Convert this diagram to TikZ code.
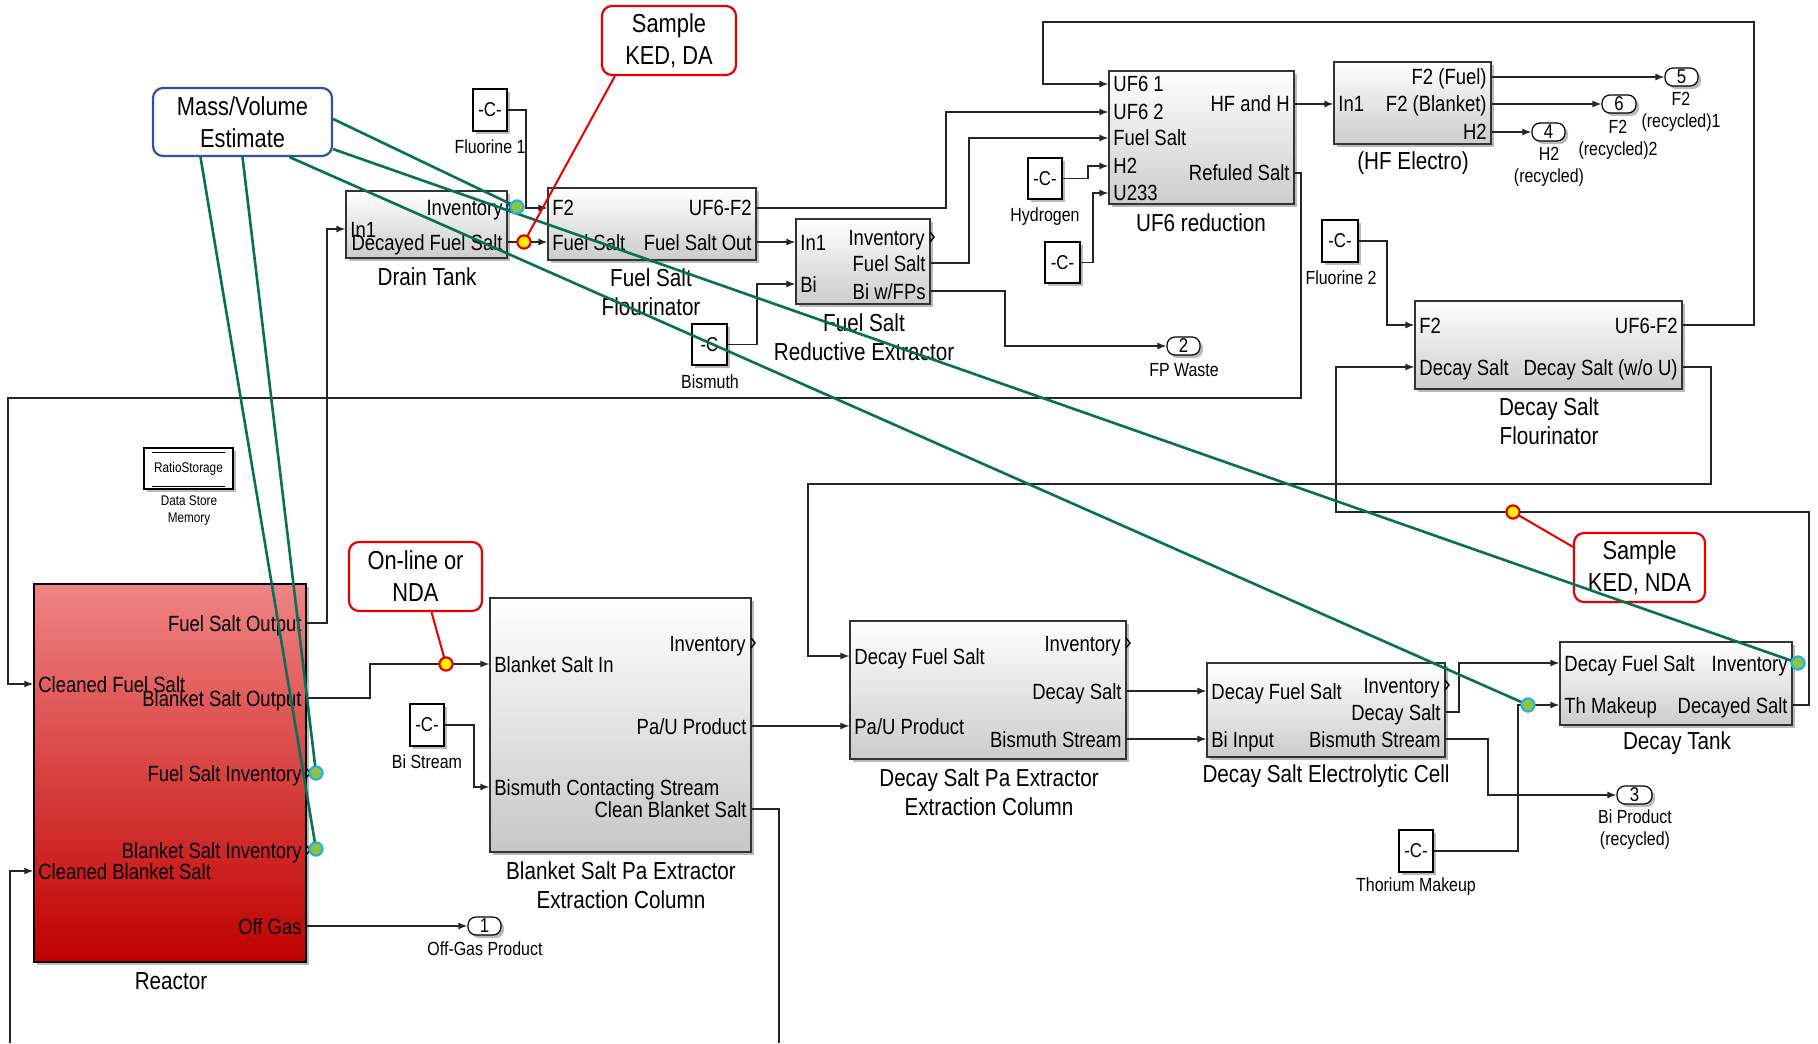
\documentclass[tikz,border=0pt]{standalone}
\usepackage{fontspec}
\setmainfont{Liberation Sans}[FakeStretch=0.84]
\usetikzlibrary{shadows,arrows.meta,fit,calc}
\definecolor{gln}{RGB}{8,112,84}
\definecolor{rln}{RGB}{230,0,0}
\definecolor{bln}{RGB}{47,85,151}
\definecolor{dotb}{RGB}{40,175,230}
\definecolor{dotg}{RGB}{140,198,63}
\definecolor{rtop}{RGB}{240,132,132}
\definecolor{rbot}{RGB}{192,0,0}
\newcommand{\lp}[3]{\node[plab,anchor=west] (#1) at (#2) {#3};}
\newcommand{\rp}[3]{\node[plab,anchor=east] (#1) at (#2) {#3};}
\begin{document}
\begin{tikzpicture}[x=0.5pt,y=-0.5pt,
 shd/.style={drop shadow={shadow xshift=1.5pt,shadow yshift=-1.5pt,fill=black!60,opacity=0.45}},
 blk/.style={shd,draw=black!80,line width=0.6pt,top color=white,bottom color=black!20,inner sep=0pt},
 cst/.style={shd,draw=black,line width=0.6pt,fill=white,inner sep=0pt},
 ctxt/.style={font=\fontsize{10}{12}\selectfont,inner sep=0pt},
 outp/.style={shd,draw=black,line width=0.6pt,fill=white,rounded corners=4pt,inner sep=0pt},
 plab/.style={font=\fontsize{11}{13}\selectfont,inner sep=0pt,text height=8pt,text depth=0pt},
 ttl/.style={align=center,font=\fontsize{12.3}{14.5}\selectfont,inner sep=0pt},
 sml/.style={align=center,font=\fontsize{9.5}{11}\selectfont,inner sep=0pt},
 tiny/.style={align=center,font=\fontsize{7}{8.5}\selectfont,inner sep=0pt},
 ann/.style={rounded corners=5pt,line width=1.1pt,fill=white,inner sep=0pt},
 atxt/.style={align=center,inner sep=0pt,font=\fontsize{13}{16}\selectfont},
 conn/.style={draw=black!85,line width=0.7pt,-{Latex[length=4.5pt,width=3.5pt]}},
 wire/.style={draw=black!85,line width=0.7pt},
 chev/.style={draw=black,line width=0.7pt},
 gline/.style={draw=gln,line width=1.3pt},
 rline/.style={draw=rln,line width=1pt},
 bdot/.style={circle,draw=dotb,fill=dotg,line width=1pt,minimum size=6.5pt,inner sep=0pt},
 ydot/.style={circle,draw=rln,fill=yellow,line width=1pt,minimum size=6.5pt,inner sep=0pt}
]
\fill[white] (0,0) rectangle (1818,1043);
\useasboundingbox (0,0) rectangle (1818,1043);

% ---------- main blocks ----------
\node[blk,fit={(346,191)(507,258)}] (dt) {};
\node[blk,fit={(548,188)(756,260)}] (fsf) {};
\node[blk,fit={(796,219)(930,304)}] (fsre) {};
\node[blk,fit={(1109,71)(1294,204)}] (uf6) {};
\node[blk,fit={(1334,62)(1491,144)}] (hfe) {};
\node[blk,fit={(1415,301)(1682,389)}] (dsf) {};
\node[shd,draw=black,line width=0.7pt,top color=rtop,bottom color=rbot,inner sep=0pt,fit={(34,584)(306,962)}] (reactor) {};
\node[blk,top color=white,bottom color=black!22,fit={(490,598)(751,852)}] (bspa) {};
\node[blk,fit={(850,621)(1126,759)}] (dspa) {};
\node[blk,fit={(1207,663)(1445,757)}] (dsec) {};
\node[blk,fit={(1560,642)(1792,725)}] (dtk) {};

% data store memory
\node[cst,fit={(144,448)(233,489)}] (dsm) {};
\draw[line width=0.7pt] ($(dsm.north west)+(9,5)$) -- ($(dsm.north east)+(-9,5)$);
\draw[line width=0.7pt] ($(dsm.south west)+(9,-3)$) -- ($(dsm.south east)+(-9,-3)$);
\node[tiny] (dsmt) at (dsm.center) {RatioStorage};
\node[tiny] (dsml) at (189,511) {Data Store\\Memory};

% ---------- constants ----------
\node[cst,fit={(473,89)(507,131)}] (c1) {};
\node[cst,fit={(692,324)(727,365)}] (cBi) {};
\node[cst,fit={(1028,158)(1062,199)}] (cH) {};
\node[cst,fit={(1045,242)(1080,283)}] (cU) {};
\node[cst,fit={(1322,220)(1358,262)}] (cF2) {};
\node[cst,fit={(410,704)(444,746)}] (cBiS) {};
\node[cst,fit={(1399,830)(1433,872)}] (cTh) {};
\node[ctxt] (c1t) at (c1.center) {-C-};
\node[ctxt] (cBit) at (cBi.center) {-C};
\node[ctxt] (cHt) at (cH.center) {-C-};
\node[ctxt] (cUt) at (cU.center) {-C-};
\node[ctxt] (cF2t) at (cF2.center) {-C-};
\node[ctxt] (cBiSt) at (cBiS.center) {-C-};
\node[ctxt] (cTht) at (cTh.center) {-C-};
\node[sml] (lF1) at (490,147) {Fluorine 1};
\node[sml] (lBi) at (710,382) {Bismuth};
\node[sml] (lH) at (1045,217) {Hydrogen};
\node[sml] (lF2) at (1341,278) {Fluorine 2};
\node[sml] (lBiS) at (427,762) {Bi Stream};
\node[sml] (lTh) at (1416,887) {Thorium Makeup};

% ---------- outports ----------
\node[outp,fit={(468,917)(501,935)}] (o1) {};
\node[outp,fit={(1167,337)(1200,355)}] (o2) {};
\node[outp,fit={(1617,786)(1652,804)}] (o3) {};
\node[outp,fit={(1532,123)(1565,141)}] (o4) {};
\node[outp,fit={(1665,68)(1698,86)}] (o5) {};
\node[outp,fit={(1602,95)(1636,113)}] (o6) {};
\node[ctxt] (o1t) at (o1.center) {1};
\node[ctxt] (o2t) at (o2.center) {2};
\node[ctxt] (o3t) at (o3.center) {3};
\node[ctxt] (o4t) at (o4.center) {4};
\node[ctxt] (o5t) at (o5.center) {5};
\node[ctxt] (o6t) at (o6.center) {6};
\node[sml] (lo1) at (485,949) {Off-Gas Product};
\node[sml] (lo2) at (1184,370) {FP Waste};
\node[sml] (lo3) at (1635,830) {Bi Product\\(recycled)};
\node[sml] (lo4) at (1549,167) {H2\\(recycled)};
\node[sml] (lo5) at (1681,112) {F2\\(recycled)1};
\node[sml] (lo6) at (1618,140) {F2\\(recycled)2};

% ---------- port labels ----------
\lp{dtIn}{350,229}{In1}
\rp{dtInv}{503,207}{Inventory}
\rp{dtDFS}{503,242}{Decayed Fuel Salt}
\lp{fsfF2}{552,208}{F2}
\lp{fsfFS}{552,242}{Fuel Salt}
\rp{fsfUF}{752,208}{UF6-F2}
\rp{fsfFSO}{752,242}{Fuel Salt Out}
\lp{reIn}{800,242}{In1}
\lp{reBi}{800,284}{Bi}
\rp{reInv}{925,237}{Inventory}
\rp{reFS}{926,263}{Fuel Salt}
\rp{reBW}{926,291}{Bi w/FPs}
\lp{uU1}{1113,84}{UF6 1}
\lp{uU2}{1113,112}{UF6 2}
\lp{uFS}{1113,138}{Fuel Salt}
\lp{uH2}{1113,166}{H2}
\lp{uU233}{1113,193}{U233}
\rp{uHF}{1290,104}{HF and H}
\rp{uRS}{1290,173}{Refuled Salt}
\lp{hIn}{1338,104}{In1}
\rp{hF}{1487,77}{F2 (Fuel)}
\rp{hB}{1487,104}{F2 (Blanket)}
\rp{hH}{1487,132}{H2}
\lp{sF2}{1419,325}{F2}
\lp{sDS}{1419,367}{Decay Salt}
\rp{sUF}{1678,325}{UF6-F2}
\rp{sDSU}{1678,367}{Decay Salt (w/o U)}
\lp{rCFS}{38,684}{Cleaned Fuel Salt}
\lp{rCBS}{38,871}{Cleaned Blanket Salt}
\rp{rFSO}{302,623}{Fuel Salt Output}
\rp{rBSO}{302,698}{Blanket Salt Output}
\rp{rFSI}{302,773}{Fuel Salt Inventory}
\rp{rBSI}{302,850}{Blanket Salt Inventory}
\rp{rOG}{302,926}{Off Gas}
\lp{bBSI}{494,664}{Blanket Salt In}
\lp{bBCS}{494,787}{Bismuth Contacting Stream}
\rp{bInv}{746,643}{Inventory}
\rp{bPU}{747,726}{Pa/U Product}
\rp{bCBS}{747,809}{Clean Blanket Salt}
\lp{pDFS}{854,656}{Decay Fuel Salt}
\lp{pPU}{854,726}{Pa/U Product}
\rp{pInv}{1121,643}{Inventory}
\rp{pDS}{1122,691}{Decay Salt}
\rp{pBS}{1122,739}{Bismuth Stream}
\lp{eDFS}{1211,691}{Decay Fuel Salt}
\lp{eBI}{1211,739}{Bi Input}
\rp{eInv}{1440,685}{Inventory}
\rp{eDS}{1441,712}{Decay Salt}
\rp{eBS}{1441,739}{Bismuth Stream}
\lp{tDFS}{1564,663}{Decay Fuel Salt}
\lp{tTh}{1564,705}{Th Makeup}
\rp{tInv}{1788,663}{Inventory}
\rp{tDS}{1788,705}{Decayed Salt}

% inventory chevrons
\foreach \cx/\cy in {507/207,930/237,751/643,1126/643,1445/685,306/773,306/850,1792/663}
  \draw[chev] (\cx,\cy-5) -- (\cx+4,\cy) -- (\cx,\cy+5);

% ---------- titles ----------
\node[ttl] (tdt) at (427,277) {Drain Tank};
\node[ttl] (tfsf) at (651,292) {Fuel Salt\\Flourinator};
\node[ttl] (tfsre) at (864,337) {Fuel Salt\\Reductive Extractor};
\node[ttl] (tuf6) at (1201,223) {UF6 reduction};
\node[ttl] (thfe) at (1413,163) {(HF Electro)};
\node[ttl] (tdsf) at (1549,421) {Decay Salt\\Flourinator};
\node[ttl] (trea) at (171,981) {Reactor};
\node[ttl] (tbspa) at (621,885) {Blanket Salt Pa Extractor\\Extraction Column};
\node[ttl] (tdspa) at (989,792) {Decay Salt Pa Extractor\\Extraction Column};
\node[ttl] (tdsec) at (1326,776) {Decay Salt Electrolytic Cell};
\node[ttl] (tdtk) at (1677,743) {Decay Tank};

% ---------- connectors ----------
\coordinate (botL) at (10,1043);
\coordinate (botR) at (779,1043);
\draw[conn] (c1.east) -| (526,208) -- (fsf.west|-fsfF2);
\draw[conn] (dt.east|-dtDFS) -- (fsf.west|-fsfFS);
\draw[conn] (fsf.east|-fsfUF) -| (946,112) -- (uf6.west|-uU2);
\draw[conn] (fsf.east|-fsfFSO) -- (fsre.west|-reIn);
\draw[conn] (cBi.east) -| (757,284) -- (fsre.west|-reBi);
\draw[conn] (fsre.east|-reFS) -| (969,138) -- (uf6.west|-uFS);
\draw[conn] (fsre.east|-reBW) -| (1005,346) -- (o2.west);
\draw[conn] (cH.east) -| (1088,166) -- (uf6.west|-uH2);
\draw[conn] (cU.east) -| (1093,193) -- (uf6.west|-uU233);
\draw[conn] (uf6.east|-uHF) -- (hfe.west|-hIn);
\draw[conn] (hfe.east|-hF) -- (o5.west);
\draw[conn] (hfe.east|-hB) -- (o6.west);
\draw[conn] (hfe.east|-hH) -- (o4.west);
\draw[conn] (uf6.east|-uRS) -| (1301,398) -| (8,684) -- (reactor.west|-rCFS);
\draw[conn] (dsf.east|-sUF) -| (1754,22) -| (1043,84) -- (uf6.west|-uU1);
\draw[conn] (cF2.east) -| (1387,325) -- (dsf.west|-sF2);
\draw[conn] (dsf.east|-sDSU) -| (1711,484) -| (808,656) -- (dspa.west|-pDFS);
\draw[conn] (dtk.east|-tDS) -| (1809,512) -| (1336,367) -- (dsf.west|-sDS);
\draw[conn] (reactor.east|-rFSO) -| (327,229) -- (dt.west|-dtIn);
\draw[conn] (reactor.east|-rBSO) -| (370,664) -- (bspa.west|-bBSI);
\draw[conn] (reactor.east|-rOG) -- (o1.west);
\draw[conn] (cBiS.east) -| (474,787) -- (bspa.west|-bBCS);
\draw[conn] (bspa.east|-bPU) -- (dspa.west|-pPU);
\draw[wire] (bspa.east|-bCBS) -| (botR);
\draw[conn] (botL) |- (reactor.west|-rCBS);
\draw[conn] (dspa.east|-pDS) -- (dsec.west|-eDFS);
\draw[conn] (dspa.east|-pBS) -- (dsec.west|-eBI);
\draw[conn] (dsec.east|-eDS) -| (1459,663) -- (dtk.west|-tDFS);
\draw[conn] (dsec.east|-eBS) -| (1488,795) -- (o3.west);
\draw[conn] (cTh.east) -| (1518,705) -- (dtk.west|-tTh);

% ---------- annotations ----------
\node[ann,draw=bln,fit={(153,88)(332,156)}] (mv) {};
\node[ann,draw=rln,fit={(602,6)(736,75)}] (sk1) {};
\node[ann,draw=rln,fit={(349,542)(482,611)}] (onl) {};
\node[ann,draw=rln,fit={(1574,533)(1705,602)}] (sk2) {};
\node[atxt] (mvt) at (mv.center) {Mass/Volume\\Estimate};
\node[atxt] (sk1t) at (sk1.center) {Sample\\KED, DA};
\node[atxt] (onlt) at (onl.center) {On-line or\\NDA};
\node[atxt] (sk2t) at (sk2.center) {Sample\\KED, NDA};

% dots (positions)
\node[bdot] (dDT) at (517,207) {};
\node[bdot] (dR1) at (316,773) {};
\node[bdot] (dR2) at (316,849) {};
\node[bdot] (dTI) at (1798,663) {};
\node[bdot] (dTh) at (1528,705) {};
\node[ydot] (y1) at (524,242) {};
\node[ydot] (y2) at (446,664) {};
\node[ydot] (y3) at (1513,512) {};

% green and red lines
\draw[gline] ($(mv.east)+(0,-3)$) -- (dDT.center);
\draw[gline] ($(mv.south east)+(0,-8)$) -- (dTI.center);
\draw[gline] ($(mv.south)+(47,0)$) -- (dTh.center);
\draw[gline] ($(mv.south)+(-42,0)$) -- (dR2.center);
\draw[gline] (mv.south) -- (dR1.center);
\draw[rline] ($(sk1.south west)+(14,0)$) -- (y1.center);
\draw[rline] ($(onl.south)+(16,0)$) -- (y2.center);
\draw[rline] ($(sk2.north west)+(0,15)$) -- (y3.center);

% redraw dots on top
\node[bdot] at (dDT) {};
\node[bdot] at (dR1) {};
\node[bdot] at (dR2) {};
\node[bdot] at (dTI) {};
\node[bdot] at (dTh) {};
\node[ydot] at (y1) {};
\node[ydot] at (y2) {};
\node[ydot] at (y3) {};
\end{tikzpicture}
\end{document}
